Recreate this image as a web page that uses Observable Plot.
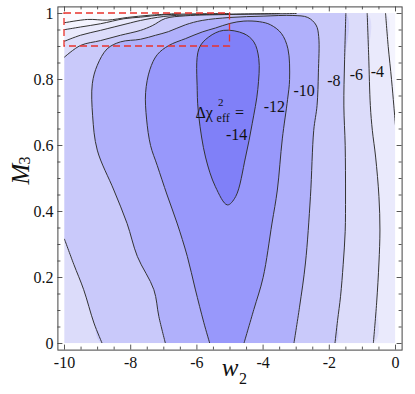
<!DOCTYPE html>
<html><head><meta charset="utf-8">
<script src="https://cdn.jsdelivr.net/npm/d3@7"></script>
<script src="https://cdn.jsdelivr.net/npm/@observablehq/plot@0.6"></script>
<style>
html,body{margin:0;padding:0;background:#fff;}
#chart{width:415px;height:394px;}
#chart svg, #chart svg text{font-family:"Liberation Serif","DejaVu Serif",serif;}
</style></head><body><div id="chart"></div>
<script>
// ---- axes ----
const xDomain = [-10, 0];
const yDomain = [0, 1];
const xTicks = [-10, -8, -6, -4, -2, 0];
const xTickLabels = ["-10", "-8", "-6", "-4", "-2", "0"];
const yTicks = [0, 0.2, 0.4, 0.6, 0.8, 1];
const yTickLabels = ["0", "0.2", "0.4", "0.6", "0.8", "1"];

// ---- contour levels (Δχ²_eff) and band shades (region below each level) ----
const bandLevels = [-2, -4, -6, -8, -10, -12, -14];
const bandColors = ["#f4f4fe", "#eaeafc", "#dcdcfa", "#c9c9fa", "#b0b0fb", "#9898fb", "#8080f8"];
const topBandColor = "#fbfbff";

// ---- contour lines, [w2, M3] ----
const c2a = [[-10,0.972],[-9.3,0.982],[-8.7,0.98],[-8.1,0.988],[-7.4,0.995],[-6.5,1.0]];
const c4a = [[-10,0.951],[-9.52,0.959],[-8.91,0.969],[-8.21,0.984],[-7.7,0.989],[-7.0,0.996],[-6.0,0.999],[-5.0,1.0]];
const c4b = [[-0.30,1.0],[-0.22,0.9],[-0.12,0.8],[-0.05,0.72],[0,0.66]];
const c6a = [[-10,0.916],[-9.52,0.934],[-8.91,0.949],[-8.11,0.969],[-7.7,0.979],[-7.0,0.991],[-6.2,0.996],[-5.0,0.998],[-3.5,1.0]];
const c6b = [[-0.855,1.0],[-0.81,0.872],[-0.76,0.721],[-0.70,0.646],[-0.60,0.565],[-0.50,0.445],[-0.47,0.344],[-0.50,0.244],[-0.57,0.123],[-0.67,0]];
const c8a = [[-10,0.316],[-9.72,0.24],[-9.42,0.163],[-9.11,0.062],[-8.86,0]];
const c8b = [[-10,0.868],[-9.52,0.903],[-8.91,0.918],[-8.31,0.934],[-7.7,0.949],[-7.35,0.963],[-6.95,0.985],[-6.34,0.993],[-5.0,0.997],[-3.6,0.999],[-3.0,1.0]];
const c8c = [[-1.50,1.0],[-1.54,0.85],[-1.56,0.72],[-1.52,0.6],[-1.51,0.45],[-1.52,0.34],[-1.58,0.24],[-1.66,0.143],[-1.75,0.07],[-1.83,0]];
const c10 = [[-6.95,0],[-7.15,0.082],[-7.30,0.163],[-7.80,0.264],[-8.11,0.364],[-8.51,0.465],[-9.01,0.586],[-9.15,0.69],[-9.16,0.787],[-9.01,0.843],[-8.71,0.893],[-8.31,0.914],[-7.7,0.922],[-7.25,0.934],[-6.86,0.945],[-6.34,0.966],[-5.84,0.979],[-5.0,0.988],[-4.0,0.992],[-3.1,0.994],[-2.65,0.988],[-2.4,0.965],[-2.32,0.93],[-2.33,0.82],[-2.37,0.721],[-2.47,0.646],[-2.57,0.445],[-2.72,0.244],[-2.9,0.11],[-3.07,0]];
const c12 = [[-5.61,0],[-5.79,0.063],[-6.05,0.165],[-6.29,0.264],[-6.60,0.365],[-6.90,0.45],[-7.20,0.54],[-7.40,0.6],[-7.52,0.68],[-7.55,0.76],[-7.42,0.83],[-7.2,0.875],[-6.85,0.903],[-6.34,0.924],[-5.84,0.944],[-5.44,0.956],[-5.0,0.97],[-4.58,0.977],[-4.1,0.975],[-3.78,0.966],[-3.45,0.94],[-3.25,0.893],[-3.20,0.80],[-3.26,0.74],[-3.42,0.62],[-3.57,0.465],[-3.73,0.365],[-4.0,0.2],[-4.28,0.103],[-4.58,0]];
const c14 = [[-5.19,0.949],[-4.58,0.939],[-4.28,0.914],[-4.13,0.863],[-4.16,0.77],[-4.33,0.666],[-4.53,0.565],[-4.83,0.445],[-5.08,0.42],[-5.44,0.475],[-5.74,0.565],[-5.94,0.686],[-5.99,0.767],[-5.94,0.893],[-5.64,0.929]];

// ---- contour labels ----
const labelText = ["-4", "-6", "-8", "-10", "-12", "-14"];
const labelX = [-0.55, -1.18, -1.86, -2.76, -3.66, -4.80];
const labelY = [0.824, 0.815, 0.797, 0.767, 0.718, 0.631];
const keyText = ["Δχ", "2", "eff", "="];
const keyAnchor = [-6.04, 0.70];

// ---- dashed box ----
const boxX = [-10, -5];
const boxY = [0.9, 1];

// ================= drawing =================
const W = 415, H = 394;
const mL = 64, mR = 20, mT = 13, mB = 51;
const innerW = W - mL - mR, innerH = H - mT - mB;
const pad = 6.6;
const frameColor = "#444";
const lineColor = "#333";
const serif = "Liberation Serif, DejaVu Serif, serif";

const X0 = xDomain[0], X1 = xDomain[1], Y0 = yDomain[0], Y1 = yDomain[1];
const rings = [
  {level: -2, pts: [...c2a, [X1, Y1], [X1, Y0], [X0, Y0]]},
  {level: -4, pts: [...c4a, ...c4b, [X1, Y0], [X0, Y0]]},
  {level: -6, pts: [...c6a, ...c6b, [X0, Y0]]},
  {level: -8, pts: [...c8b, ...c8c, ...c8a.slice().reverse()]},
  {level: -10, pts: c10},
  {level: -12, pts: c12},
  {level: -14, pts: c14, closed: true}
];
const pieces = [c2a, c4a, c4b, c6a, c6b, c8a, c8b, c8c, c10, c12];

const fx = d => d[0], fy = d => d[1];

const fills = rings.map(r => Plot.line(r.pts, {
  x: fx, y: fy, fill: () => r.level, stroke: "none",
  curve: r.closed ? "catmull-rom-closed" : "catmull-rom", clip: true
}));
const strokes = pieces.map(p => Plot.line(p, {
  x: fx, y: fy, stroke: lineColor, strokeWidth: 1, curve: "catmull-rom", clip: true
}));
strokes.push(Plot.line(c14, {x: fx, y: fy, stroke: lineColor, strokeWidth: 1, curve: "catmull-rom-closed", clip: true}));

const xMinor = d3.range(X0, X1 + 1e-9, 0.5).filter(v => !xTicks.includes(v));
const yMinor = d3.range(Y0, Y1 + 1e-9, 0.05).map(v => +v.toFixed(2)).filter(v => !yTicks.includes(v));

function ticksX(vals, len) {
  return [
    Plot.ruleX(vals, {x: d => d, insetTop: innerH + pad - len, insetBottom: -pad, stroke: frameColor, strokeWidth: 0.9}),
    Plot.ruleX(vals, {x: d => d, insetTop: -pad, insetBottom: innerH + pad - len, stroke: frameColor, strokeWidth: 0.9})
  ];
}
function ticksY(vals, len) {
  return [
    Plot.ruleY(vals, {y: d => d, insetLeft: -pad, insetRight: innerW + pad - len, stroke: frameColor, strokeWidth: 0.9}),
    Plot.ruleY(vals, {y: d => d, insetLeft: innerW + pad - len, insetRight: -pad, stroke: frameColor, strokeWidth: 0.9})
  ];
}
const xLab = new Map(xTicks.map((t, i) => [t, xTickLabels[i]]));
const yLab = new Map(yTicks.map((t, i) => [t, yTickLabels[i]]));
const T = {fontFamily: serif, fill: "#111"};

const chart = Plot.plot({
  width: W, height: H,
  marginLeft: mL, marginRight: mR, marginTop: mT, marginBottom: mB,
  x: {domain: xDomain},
  y: {domain: yDomain},
  color: {type: "ordinal", domain: bandLevels, range: bandColors},
  style: {fontFamily: serif, fontSize: "16px", color: "#111", background: "#fff"},
  marks: [
    Plot.frame({fill: topBandColor, stroke: "none"}),
    ...fills,
    ...strokes,
    Plot.rect([{x1: boxX[0], x2: boxX[1], y1: boxY[0], y2: boxY[1]}], {
      x1: "x1", x2: "x2", y1: "y1", y2: "y2", fill: "none",
      stroke: "#e8322c", strokeWidth: 1.3, strokeDasharray: "7,4"
    }),
    Plot.text(labelText, {x: (d, i) => labelX[i], y: (d, i) => labelY[i], text: d => d, fontSize: 16, ...T}),
    Plot.text([keyText[0]], {x: () => keyAnchor[0], y: () => keyAnchor[1], text: d => d, textAnchor: "start", fontSize: 16, ...T}),
    Plot.text([keyText[1]], {x: () => keyAnchor[0], y: () => keyAnchor[1], text: d => d, textAnchor: "start", dx: 22.5, dy: -10.5, fontSize: 11, ...T}),
    Plot.text([keyText[2]], {x: () => keyAnchor[0], y: () => keyAnchor[1], text: d => d, textAnchor: "start", dx: 21, dy: 6, fontSize: 12, ...T}),
    Plot.text([keyText[3]], {x: () => keyAnchor[0], y: () => keyAnchor[1], text: d => d, textAnchor: "start", dx: 39.5, dy: 0, fontSize: 16, ...T}),
    ...ticksX(xTicks, 5), ...ticksX(xMinor, 3),
    ...ticksY(yTicks, 5), ...ticksY(yMinor, 3),
    Plot.frame({stroke: frameColor, strokeWidth: 1, inset: -pad}),
    Plot.axisX({ticks: xTicks, tickFormat: d => xLab.get(d), tickSize: 0, tickPadding: 13, fontSize: 16, fontFamily: serif, label: null}),
    Plot.axisY({ticks: yTicks, tickFormat: d => yLab.get(d), tickSize: 0, tickPadding: 11, fontSize: 16, fontFamily: serif, label: null}),
    Plot.text(["w"], {frameAnchor: "bottom", text: d => d, dy: 32, fontStyle: "italic", fontSize: 25, ...T}),
    Plot.text(["2"], {frameAnchor: "bottom", text: d => d, dx: 13, dy: 40.5, fontSize: 16, ...T}),
    Plot.text(["M"], {frameAnchor: "left", text: d => d, rotate: -90, dx: -44, dy: 6, fontStyle: "italic", fontSize: 25, ...T}),
    Plot.text(["3"], {frameAnchor: "left", text: d => d, rotate: -90, dx: -40, dy: -14, fontSize: 16, ...T})
  ]
});
document.getElementById("chart").appendChild(chart);
</script>
</body></html>
